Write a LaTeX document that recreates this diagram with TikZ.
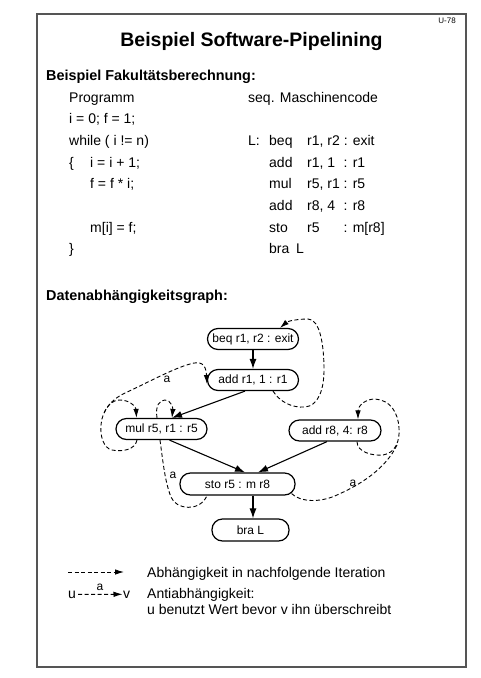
\documentclass[tikz,border=0pt]{standalone}
\usepackage{fontspec}
\setmainfont{Liberation Sans}
\usetikzlibrary{arrows.meta,calc}
\definecolor{framegray}{RGB}{85,85,85}
\begin{document}
\begin{tikzpicture}[x=1pt,y=-1pt,
  instr/.style={draw=black, line width=1.2pt, rounded corners=10.5pt, minimum height=21pt, inner sep=0pt, font=\fontsize{12}{14}\selectfont},
  code/.style={anchor=base west, inner sep=0pt, font=\fontsize{14}{17}\selectfont},
  head/.style={anchor=base west, inner sep=0pt, font=\bfseries\fontsize{14.4}{17}\selectfont},
  lbl/.style={inner sep=0pt, font=\fontsize{12}{14}\selectfont},
  dep/.style={-{Latex[length=10pt,width=7pt]}, line width=1.1pt},
  dline/.style={line width=0.9pt, dash pattern=on 4pt off 2.5pt},
  loopdep/.style={dline, -{Latex[length=9pt,width=5.5pt]}}
]
\useasboundingbox (0,0) rectangle (480,678);
\draw[framegray, line width=2pt] (37,14) rectangle (466,667);

% title
\node[inner sep=0pt, anchor=base east, font=\fontsize{8}{9}\selectfont] (pg) at (456,23) {U-78};
\node[inner sep=0pt, anchor=base, font=\bfseries\fontsize{19.5}{22}\selectfont] (title) at (251.5,46) {Beispiel Software-Pipelining};

% first section
\node[head] (h1) at (46,80) {Beispiel Fakultätsberechnung:};
\node[code] (p0) at (69,102) {Programm};
\node[code] (p1) at (69,123.7) {i = 0; f = 1;};
\node[code] (p2) at (69,145.4) {while ( i != n)};
\node[code] (p3a) at (69,167.1) {\{};
\node[code] (p3b) at (90,167.1) {i = i + 1;};
\node[code] (p4) at (90,188.8) {f = f * i;};
\node[code] (p6) at (90,232.2) {m[i] = f;};
\node[code] (p7) at (69,253.9) {\}};

\node[code] (m0) at (248,102) {seq. Maschinencode};
\node[code] (m2l) at (248,145.4) {L:};
\node[code] (m2o) at (269,145.4) {beq};
\node[code] (m2a) at (307,145.4) {r1, r2 : exit};
\node[code] (m3o) at (269,167.1) {add};
\node[code] (m3a) at (307,167.1) {r1, 1};
\node[code] (m3c) at (343.5,167.1) {: r1};
\node[code] (m4o) at (269,188.8) {mul};
\node[code] (m4a) at (307,188.8) {r5, r1};
\node[code] (m4c) at (343.5,188.8) {: r5};
\node[code] (m5o) at (269,210.5) {add};
\node[code] (m5a) at (307,210.5) {r8, 4};
\node[code] (m5c) at (343.5,210.5) {: r8};
\node[code] (m6o) at (269,232.2) {sto};
\node[code] (m6a) at (307,232.2) {r5};
\node[code] (m6c) at (343.5,232.2) {: m[r8]};
\node[code] (m7o) at (269,253.9) {bra};
\node[code] (m7a) at (296,253.9) {L};

% graph
\node[head] (h2) at (46,300) {Datenabhängigkeitsgraph:};

\node[instr, minimum width=91pt] (beq) at (253,339) {beq r1, r2 : exit};
\node[instr, minimum width=91pt] (addA) at (253,380) {add r1, 1 : r1};
\node[instr, minimum width=91pt] (mul) at (161.5,429) {mul r5, r1 : r5};
\node[instr, minimum width=92pt] (addB) at (335,430.5) {add r8, 4: r8};
\node[instr, minimum width=115pt, minimum height=22pt] (sto) at (237.5,484) {sto r5 : m r8};
\node[instr, minimum width=77pt, minimum height=22pt] (bra) at (250.5,530) {bra L};

\draw[dep] (beq.south) -- (addA.north);
\draw[dep] ([xshift=-8pt]addA.south) -- ([xshift=10.5pt]mul.north);
\draw[dep] ([xshift=8pt]mul.south) -- ([xshift=7.5pt]sto.north);
\draw[dep] ([xshift=-8pt]addB.south) -- ([xshift=20.5pt]sto.north);
\draw[dep] ([xshift=15.5pt]sto.south) -- ([xshift=2.5pt]bra.north);

% loop add r1 -> beq
\draw[loopdep] ([xshift=20pt]addA.south) .. controls (280,402) and (292,408) .. (305,407)
  .. controls (318,406) and (324,390) .. (324,370)
  .. controls (324,345) and (320,319) .. (308,319)
  .. controls (298,319) and (288,321) .. ([xshift=27pt]beq.north);

% antidependence mul -> add r1
\draw[loopdep] ([xshift=-24.5pt]mul.south) .. controls (135,450) and (122,452) .. (112,450)
  .. controls (103,448) and (100,435) .. (101,425)
  .. controls (102,410) and (112,399) .. (125,393)
  .. controls (145,384) and (172,369) .. (190,364)
  .. controls (200,361) and (206,363) .. ([yshift=-4pt]addA.west);
\node[lbl] (a1) at (167,379) {a};
% branch: mul self loop
\draw[loopdep] (104.2,412.6) .. controls (107,406) and (112,400) .. (120,400)
  .. controls (130,400) and (136,407) .. ([xshift=-25pt]mul.north);
% small loop on top of mul
\draw[loopdep] ([xshift=-4.5pt]mul.north) .. controls (155,405) and (160,400) .. (165,400)
  .. controls (171,400) and (173,408) .. ([xshift=10.5pt]mul.north);

% antidependence sto -> mul
\draw[dline] ([xshift=-1.5pt]mul.south) .. controls (163,462) and (165,482) .. (171,497)
  .. controls (176,510) and (200,512) .. ([xshift=-30.5pt]sto.south);
\node[lbl] (a2) at (173,475) {a};

% loop add r8
\draw[loopdep] ([xshift=22pt]addB.south) .. controls (357,452) and (372,456) .. (383,455)
  .. controls (396,453) and (400,440) .. (399,428)
  .. controls (398,412) and (390,400) .. (375,399)
  .. controls (365,399) and (358,406) .. ([xshift=23pt]addB.north);
% antidependence sto -> add r8
\draw[dline] ([xshift=-4pt,yshift=2pt]sto.south east) .. controls (300,502) and (320,503) .. (337,495)
  .. controls (362,484) and (386,468) .. (397,445);
\node[lbl] (a3) at (353,483) {a};

% legend
\coordinate (l1a) at (68,572);
\coordinate (l1b) at (124,572);
\draw[loopdep] (l1a) -- (l1b);
\node[code] (t1) at (147,577) {Abhängigkeit in nachfolgende Iteration};
\node[code] (u) at (68,598) {u};
\node[code] (v) at (123,598) {v};
\draw[loopdep] ([xshift=2pt]u.east) -- ([xshift=-0.5pt]v.west);
\node[lbl] (a4) at (100,587) {a};
\node[code] (t2) at (147,598) {Antiabhängigkeit:};
\node[code] (t3) at (147,614) {u benutzt Wert bevor v ihn überschreibt};
\end{tikzpicture}
\end{document}
